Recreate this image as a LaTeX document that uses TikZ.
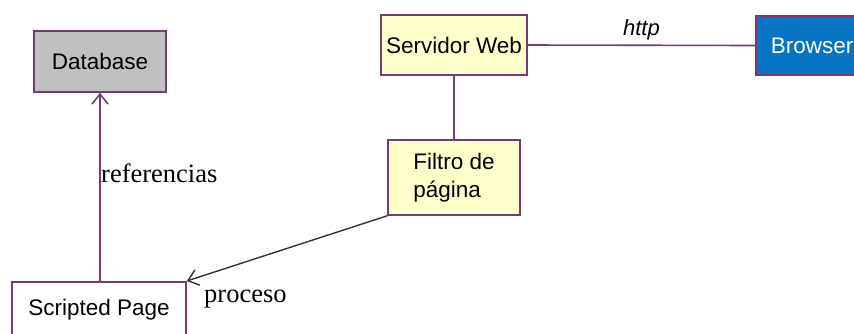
\documentclass[tikz,border=0pt]{standalone}
\usepackage{fontspec}
\setmainfont{Liberation Serif}
\setsansfont{Liberation Sans}
\usepackage{xcolor}
\usepackage{tikz}
\usetikzlibrary{arrows.meta}
\definecolor{borde}{HTML}{743C74}
\definecolor{gris}{HTML}{C0C0C0}
\definecolor{crema}{HTML}{FFFFCC}
\definecolor{azul}{HTML}{0874C4}
\begin{document}
\begin{tikzpicture}[x=1pt,y=-1pt,
    caja/.style={draw=borde, line width=1.6pt, inner sep=0pt,
      font=\sffamily\fontsize{22.5}{28}\selectfont},
    enlace/.style={draw=borde, line width=1.6pt},
    etiqueta/.style={font=\rmfamily\fontsize{26.5}{30}\selectfont, inner sep=0pt}]
    \useasboundingbox (0,0) rectangle (854,333);
    \node [caja, fill=gris, minimum width=132pt, minimum height=61pt] (db) at (100,61.5) {Database};
    \node [caja, fill=crema, minimum width=146pt, minimum height=60pt] (web) at (454,45) {Servidor Web};
    \node [caja, fill=azul, text=white, anchor=west, text width=100pt, inner xsep=15pt,
      align=left, minimum height=59pt] (browser) at (755,45.5) {Browser};
    \node [caja, fill=crema, minimum width=132pt, minimum height=75pt, align=left] (filtro) at (454,177.5)
      {Filtro de\\página};
    \node [caja, fill=white, anchor=north, minimum width=174pt, minimum height=56pt] (script) at (99,281)
      {Scripted Page};
    % conexiones
    \draw [enlace] (web.east) -- (browser.west)
      node [midway, above=1pt, font=\sffamily\itshape\fontsize{22}{25}\selectfont] {http};
    \draw [enlace] (web.south) -- (filtro.north);
    \draw [enlace, -{Straight Barb[length=10pt,width=16pt]}] (script.north -| db.south) -- (db.south);
    \draw [line width=1.4pt, draw=black!80, -{Straight Barb[length=10pt,width=16pt]}]
      (filtro.south west) -- (script.north east);
    \node [etiqueta, anchor=base west] (ref) at (101,182) {referencias};
    \node [etiqueta, anchor=base west] (proc) at (204,302) {proceso};
\end{tikzpicture}
\end{document}
